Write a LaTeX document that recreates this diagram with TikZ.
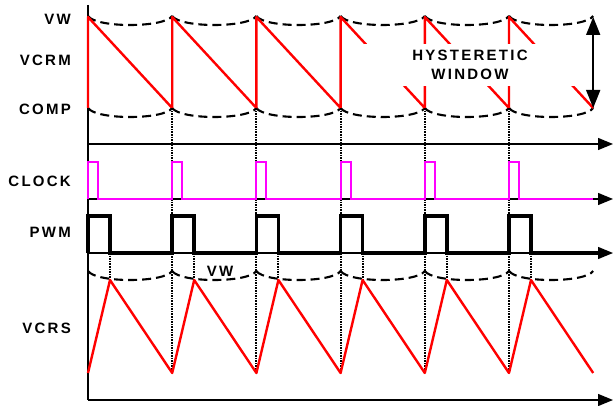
\documentclass[tikz,border=0pt]{standalone}
\usepackage{fontspec}
\newfontfamily\lblfont[LetterSpace=15]{Liberation Sans}
\usetikzlibrary{arrows.meta}
\definecolor{clkmag}{RGB}{255,0,255}
\definecolor{rampred}{RGB}{255,0,0}
\tikzset{
  lbl/.style={font=\lblfont\bfseries\fontsize{15}{19.5}\selectfont, inner sep=0pt},
  axis/.style={line width=1.3pt},
  axisarrow/.style={axis, -{Triangle[length=15pt,width=12pt]}},
  envelope/.style={line width=2.1pt, dash pattern=on 9pt off 5pt},
  ramp/.style={rampred, line width=2.4pt, line join=round},
  guide/.style={line width=2pt, dash pattern=on 1.6pt off 1pt},
  clk/.style={clkmag, line width=2pt},
  pwm/.style={line width=3.6pt},
  window/.style={line width=1.6pt, {Triangle[length=18pt,width=14pt]}-{Triangle[length=18pt,width=14pt]}},
}

\begin{document}
\begin{tikzpicture}[x=1pt, y=-1pt]
		%%%%% START %%%%%
		\useasboundingbox (0,0) rectangle (613,406);
		
		% labels
		\node[lbl, anchor=east] (vw) at (71,19) {VW};
		\node[lbl, anchor=east] (vcrm) at (71,60) {VCRM};
		\node[lbl, anchor=east] (comp) at (71,109) {COMP};
		\node[lbl, anchor=east] (clock) at (71,181) {CLOCK};
		\node[lbl, anchor=east] (pwmlbl) at (71,232) {PWM};
		\node[lbl, anchor=east] (vcrs) at (71,328) {VCRS};
		
		% axes
		\draw[axis] (88,5) -- (88,400);
		\draw[axisarrow] (88,144) -- (613,144);
		\draw[axisarrow] (88,199) -- (613,199);
		\draw[axisarrow] (88,253) -- (613,253);
		\draw[axisarrow] (88,400) -- (613,400);
		
		% VW and COMP envelopes
		\foreach \x in {88,172.2,256.4,340.6,424.8,509} {
			\draw[envelope] (\x,16) .. controls (\x+8,28) and (\x+76.2,28) .. (\x+84.2,16);
			\draw[envelope] (\x,108) .. controls (\x+8,120) and (\x+76.2,120) .. (\x+84.2,108);
			\draw[envelope] (\x,271) .. controls (\x+8,283) and (\x+76.2,283) .. (\x+84.2,271);
		}
		
		% VCRM ramp
		\draw[ramp] (88,108) \foreach \x in {88,172.2,256.4,340.6,424.8,509} { -- (\x,108) -- (\x,17) } -- (593.2,108);
		
		\node[lbl, fill=white, align=center, minimum width=240pt, minimum height=42pt] (hyst) at (470,65) {HYSTERETIC\\WINDOW};
		\coordinate (wtop) at (593.2,17);
		\coordinate (wbot) at (593.2,108);
		\draw[window] (wtop) -- (wbot);
		
		% dotted guides
		\foreach \x in {172.2,256.4,340.6,424.8,509}
			\draw[guide] (\x,108) -- (\x,373);
		\foreach \x in {110,194.2,278.4,362.6,446.8,531}
			\draw[guide] (\x,253) -- (\x,280);
		
		% CLOCK
		\draw[clk] (88,199) \foreach \x in {88,172.2,256.4,340.6,424.8,509} { -- (\x,199) -- (\x,162) -- (\x+10,162) -- (\x+10,199) } -- (593,199);
		
		% PWM
		\draw[pwm] (88,253) \foreach \x in {88,172.2,256.4,340.6,424.8,509} { -- (\x,253) -- (\x,216) -- (\x+22,216) -- (\x+22,253) } -- (598,253);
		
		% VCRS
		\node[lbl] (vwlbl) at (220,271) {VW};
		\draw[ramp] (88,373) \foreach \x in {88,172.2,256.4,340.6,424.8,509} { -- (\x,373) -- (\x+22,280) } -- (593.2,373);
		
		%%%%% END %%%%%
\end{tikzpicture}
\end{document}
